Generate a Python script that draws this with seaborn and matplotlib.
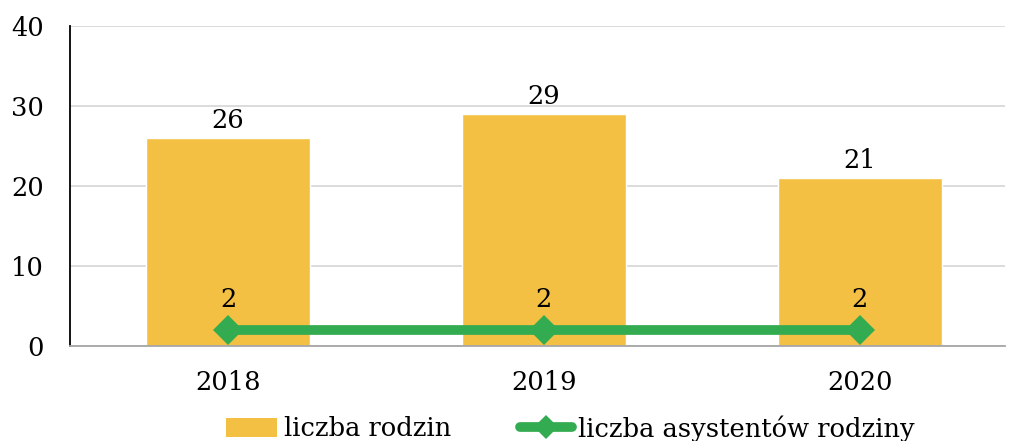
import matplotlib
matplotlib.use("Agg")
import matplotlib.pyplot as plt
import seaborn as sns
import pandas as pd
from matplotlib.patches import Patch
from matplotlib.lines import Line2D

years = ["2018", "2019", "2020"]
rodziny = [26, 29, 21]
asystenci = [2, 2, 2]

sns.set_style("white")
plt.rcParams["font.family"] = ["DejaVu Serif"]
plt.rcParams["text.color"] = "black"
plt.rcParams["xtick.color"] = "black"
plt.rcParams["ytick.color"] = "black"

BAR = "#F4C043"
GREEN = "#33AB50"
FS = 18.5

fig = plt.figure(figsize=(10.09, 4.41), dpi=100)
ax = fig.add_axes([70/1009, 1 - 346/441, 935/1009, 320/441])

df = pd.DataFrame({"rok": years, "rodziny": rodziny, "asystenci": asystenci})
sns.barplot(data=df, x="rok", y="rodziny", color=BAR, width=0.52, saturation=1, ax=ax, zorder=2)
sns.lineplot(x=list(range(len(years))), y=asystenci, color=GREEN, lw=7, marker="D",
             markersize=15, markeredgewidth=0, ax=ax, zorder=3)

for i, v in enumerate(rodziny):
    ax.text(i, v + 0.6, str(v), ha="center", va="bottom", fontsize=FS)
for i, v in enumerate(asystenci):
    ax.text(i, v + 2.2, str(v), ha="center", va="bottom", fontsize=FS)

ax.set_xlim(-0.5, 2.46)
ax.set_ylim(0, 40)
ax.set_yticks([0, 10, 20, 30, 40])
ax.yaxis.grid(True, color="#D9D9D9", lw=1.3, zorder=0)
ax.set_axisbelow(True)
ax.set_xlabel("")
ax.set_ylabel("")
ax.tick_params(axis="both", labelsize=FS, length=0)
ax.tick_params(axis="y", pad=19)
ax.tick_params(axis="x", pad=17)
for s in ["top", "right"]:
    ax.spines[s].set_visible(False)
ax.spines["left"].set_color("black")
ax.spines["left"].set_linewidth(1.3)
ax.spines["bottom"].set_color("#A6A6A6")
ax.spines["bottom"].set_linewidth(1.3)

handles = [Patch(facecolor=BAR, edgecolor="none"),
           Line2D([0], [0], color=GREEN, lw=7, marker="D", markersize=12,
                  markeredgewidth=0, solid_capstyle="round")]
ax.legend(handles, ["liczba rodzin", "liczba asystentów rodziny"], loc="upper left",
          bbox_to_anchor=(226/1009, 1 - 415/441), bbox_transform=fig.transFigure,
          ncol=2, frameon=False, fontsize=FS, handlelength=2.0, handleheight=0.8,
          columnspacing=2.7, handletextpad=0.25, borderpad=0, borderaxespad=0)

fig.savefig("out.png", dpi=100)
